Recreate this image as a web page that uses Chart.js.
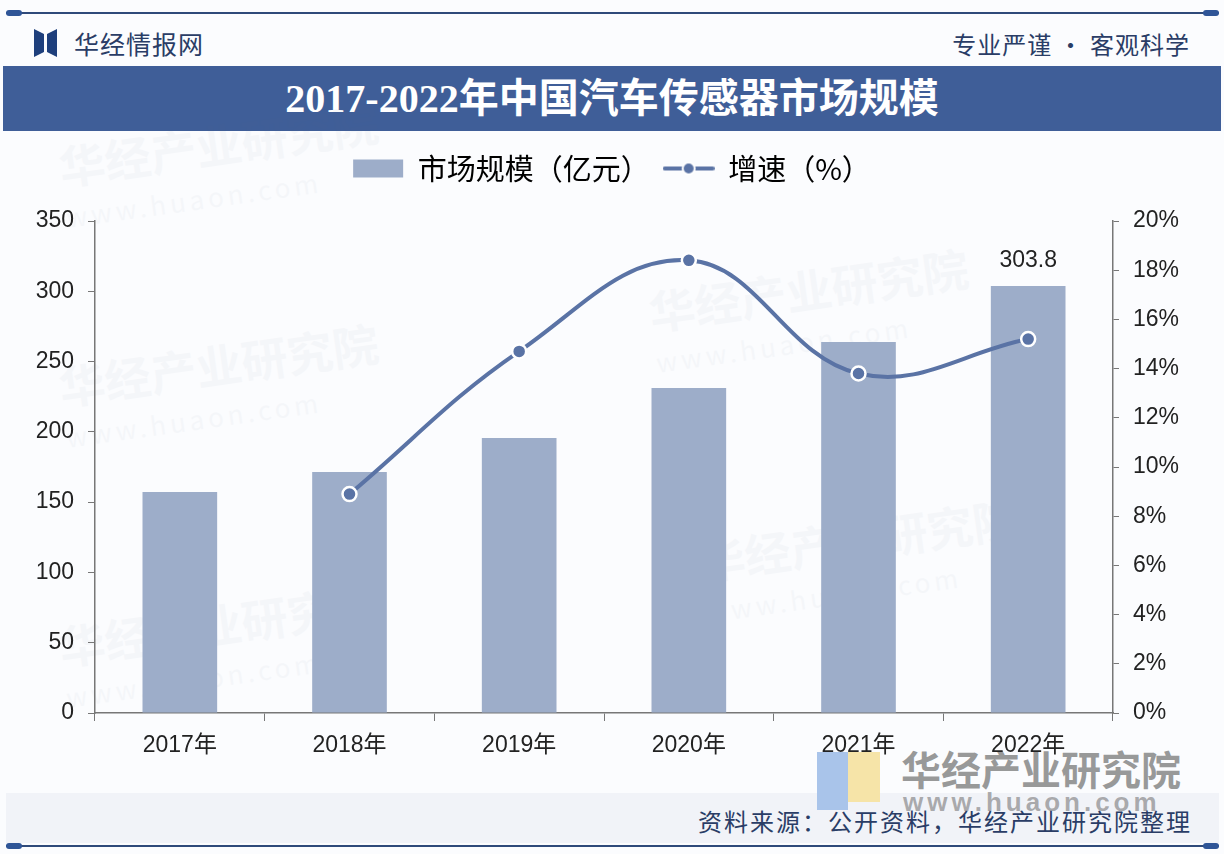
<!DOCTYPE html>
<html lang="zh">
<head>
<meta charset="utf-8">
<title>2017-2022年中国汽车传感器市场规模</title>
<script src="https://cdn.jsdelivr.net/npm/chart.js@4/dist/chart.umd.min.js"></script>
<style>
  html, body { margin: 0; padding: 0; }
  body {
    width: 1224px; height: 854px; position: relative; overflow: hidden;
    background: #fbfcfe;
    font-family: "Noto Sans CJK SC", "Liberation Sans", sans-serif;
  }
  .rule { position: absolute; left: 6px; right: 5px; height: 2px; background: #2f4a7a; }
  .rule::before, .rule::after {
    content: ""; position: absolute; top: -2px; width: 16px; height: 6px;
    border-radius: 3px; background: #2f5597;
  }
  .rule::before { left: 0; }
  .rule::after { right: 0; }
  .brand { position: absolute; left: 34px; top: 28px; height: 30px; display: flex; align-items: center; }
  .brand span { margin-left: 16px; font-size: 25px; color: #2a3d66; letter-spacing: 1px; }
  .motto { position: absolute; right: 34px; top: 26px; font-size: 24px; color: #2a3d66; letter-spacing: 1px; }
  .band {
    position: absolute; left: 3px; right: 3px; top: 66px; height: 65px;
    background: #3f5e98; color: #fff; text-align: center;
    font: bold 40px/65px "Liberation Serif", "Noto Sans CJK SC", serif;
  }
  .foot { position: absolute; left: 6px; right: 5px; top: 793px; height: 50px; background: #f1f3f8; }
  .source {
    position: absolute; right: 32px; top: 803px; font-size: 24px; color: #2a3d66; letter-spacing: 2px;
  }
  .wm { position: absolute; color: #5a6b8a; opacity: 0.035; transform: rotate(-8deg); white-space: nowrap; }
  .wm b { display: block; font-size: 46px; font-weight: 700; }
  .wm i { display: block; font-style: normal; font-size: 26px; letter-spacing: 4px; }
  .logo-wm { position: absolute; left: 817px; top: 745px; width: 390px; height: 75px; white-space: nowrap; }
  .logo-wm .blue { position: absolute; left: 0; top: 7px; width: 31px; height: 58px; background: #a9c4ea; }
  .logo-wm .yel { position: absolute; left: 31px; top: 7px; width: 32px; height: 50px; background: #f6e4a8; }
  .logo-wm .cn { position: absolute; left: 84px; top: -6px; font-size: 40px; font-weight: 700; color: rgba(120,120,120,0.75); }
  .logo-wm .en { position: absolute; left: 86px; top: 42px; font: bold 26px "Liberation Sans", sans-serif; color: rgba(120,120,120,0.6); letter-spacing: 4px; }
  #wrap { position: absolute; left: 0; top: 140px; width: 1224px; height: 640px; }
</style>
</head>
<body>
<div class="rule" style="top:12px"></div>
<div class="brand">
  <svg width="24" height="28" viewBox="0 0 24 28">
    <polygon points="0,0 10,5 10,23 0,28" fill="#1e3f7c"/>
    <polygon points="13,5 23,0 23,28 13,23" fill="#1e3f7c"/>
  </svg>
  <span>华经情报网</span>
</div>
<div class="motto">专业严谨 • 客观科学</div>
<div class="band">2017-2022年中国汽车传感器市场规模</div>

<div class="wm" style="left:60px;top:330px"><b>华经产业研究院</b><i>www.huaon.com</i></div>
<div class="wm" style="left:650px;top:255px"><b>华经产业研究院</b><i>www.huaon.com</i></div>
<div class="wm" style="left:700px;top:505px"><b>华经产业研究院</b><i>www.huaon.com</i></div>
<div class="wm" style="left:60px;top:590px"><b>华经产业研究院</b><i>www.huaon.com</i></div>
<div class="wm" style="left:60px;top:110px"><b>华经产业研究院</b><i>www.huaon.com</i></div>

<div class="foot"></div>
<div class="logo-wm">
  <div class="blue"></div><div class="yel"></div>
  <div class="cn">华经产业研究院</div>
  <div class="en">www.huaon.com</div>
</div>
<div class="source">资料来源：公开资料，华经产业研究院整理</div>
<div class="rule" style="top:845px"></div>

<div id="wrap"><canvas id="chart"></canvas></div>

<script>
const years = ["2017年", "2018年", "2019年", "2020年", "2021年", "2022年"];
const marketSize = [157.2, 171.4, 195.6, 231.2, 263.9, 303.8];   // 亿元
const growthRate = [null, 8.9, 14.7, 18.4, 13.8, 15.2];          // %
const sizeTicks = [0, 50, 100, 150, 200, 250, 300, 350];
const rateTicks = [0, 2, 4, 6, 8, 10, 12, 14, 16, 18, 20];
const seriesNames = ["市场规模（亿元）", "增速（%）"];

const barColor = "#9dadc9";
const lineColor = "#5a73a5";
const tickFont = { family: "'Liberation Sans', 'Noto Sans CJK SC', sans-serif", size: 23 };

// legend icon for the line series: a short line with a dot on it
const lineIcon = document.createElement("canvas");
lineIcon.width = 52; lineIcon.height = 16;
(function () {
  const c = lineIcon.getContext("2d");
  c.strokeStyle = lineColor; c.lineWidth = 4; c.lineCap = "round";
  c.beginPath(); c.moveTo(2, 8); c.lineTo(50, 8); c.stroke();
  c.fillStyle = lineColor; c.strokeStyle = "#fff"; c.lineWidth = 2;
  c.beginPath(); c.arc(26, 8, 6, 0, Math.PI * 2); c.fill(); c.stroke();
})();

const valueLabel = {
  id: "valueLabel",
  afterDatasetsDraw(chart) {
    const meta = chart.getDatasetMeta(0);
    const last = meta.data[meta.data.length - 1];
    const ctx = chart.ctx;
    ctx.save();
    ctx.font = "23px 'Liberation Sans', sans-serif";
    ctx.fillStyle = "#222";
    ctx.textAlign = "center";
    ctx.textBaseline = "middle";
    ctx.fillText(marketSize[marketSize.length - 1].toFixed(1), last.x, last.y - 25);
    ctx.restore();
  }
};

const legendHeight = {
  id: "legendHeight",
  beforeInit(chart) {
    const fit = chart.legend.fit;
    chart.legend.fit = function () {
      fit.call(this);
      this.height = 81;
    };
  }
};

new Chart(document.getElementById("chart"), {
  data: {
    labels: years,
    datasets: [
      {
        type: "bar",
        label: seriesNames[0],
        data: marketSize,
        backgroundColor: barColor,
        yAxisID: "y",
        order: 1,
        categoryPercentage: 1,
        barPercentage: 0.44
      },
      {
        type: "line",
        label: seriesNames[1],
        data: growthRate,
        borderColor: lineColor,
        borderWidth: 4,
        tension: 0.4,
        pointRadius: 7,
        pointBackgroundColor: lineColor,
        pointBorderColor: "#ffffff",
        pointBorderWidth: 2.5,
        yAxisID: "y1",
        order: 0
      }
    ]
  },
  options: {
    responsive: true,
    maintainAspectRatio: false,
    animation: false,
    layout: { padding: { left: 0, right: 0, top: 0, bottom: 0 } },
    plugins: {
      tooltip: { enabled: false },
      legend: {
        position: "top",
        labels: {
          usePointStyle: true,
          pointStyleWidth: 50,
          boxHeight: 18,
          padding: 14,
          color: "#222",
          font: { family: "'Noto Sans CJK SC', sans-serif", size: 29 },
          generateLabels() {
            return [
              { text: seriesNames[0], pointStyle: "rect", fillStyle: barColor, strokeStyle: barColor, lineWidth: 0, datasetIndex: 0 },
              { text: seriesNames[1], pointStyle: lineIcon, fillStyle: lineColor, strokeStyle: lineColor, lineWidth: 0, datasetIndex: 1 }
            ];
          }
        }
      }
    },
    scales: {
      x: {
        grid: { display: true, drawOnChartArea: false, offset: true, tickLength: 8, color: "#777" },
        border: { color: "#777", width: 1.5 },
        ticks: { color: "#222", font: tickFont, padding: 11 },
        afterFit(s) { s.height = 67; }
      },
      y: {
        position: "left",
        min: 0, max: 350,
        afterBuildTicks(s) { s.ticks = sizeTicks.map(v => ({ value: v })); },
        grid: { display: true, drawOnChartArea: false, tickLength: 7, color: "#777" },
        border: { color: "#777", width: 1.5 },
        ticks: { color: "#222", font: tickFont, padding: 14 },
        afterFit(s) { s.width = 95; }
      },
      y1: {
        position: "right",
        min: 0, max: 20,
        afterBuildTicks(s) { s.ticks = rateTicks.map(v => ({ value: v })); },
        grid: { display: true, drawOnChartArea: false, tickLength: 6, color: "#777" },
        border: { color: "#777", width: 1.5 },
        ticks: { color: "#222", font: tickFont, padding: 14, callback: v => v + "%" },
        afterFit(s) { s.width = 111; }
      }
    }
  },
  plugins: [valueLabel, legendHeight]
});
</script>
</body>
</html>
